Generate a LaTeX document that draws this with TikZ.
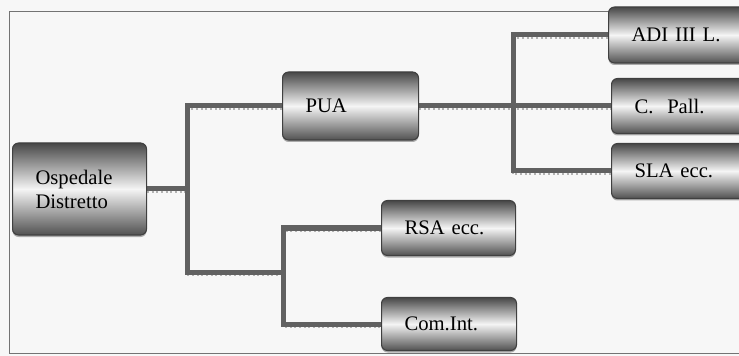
\documentclass[tikz,border=0pt]{standalone}
\usepackage{fontspec}
\setmainfont{Liberation Serif}
\usetikzlibrary{shadows,backgrounds}
\newlength\px
\setlength\px{0.75pt}
\tikzset{
  box/.style={draw=black!75, line width=0.8pt, rounded corners=6\px,
    top color=black!72, bottom color=black!68, middle color=black!4,
    drop shadow={shadow xshift=0pt, shadow yshift=-2\px, fill=black!40, opacity=0.8},
    align=left, inner xsep=23\px, inner ysep=0pt, anchor=west,
    font=\fontsize{15.5}{18}\selectfont},
  link/.style={draw=black!62, line width=5\px, line cap=rect,
    preaction={draw=black!30, dotted, line width=2\px,
      transform canvas={yshift=-3\px}}},
  frame/.style={draw=black!55, line width=0.8\px}
}
\begin{document}
\begin{tikzpicture}[x=\px, y=-\px]
  \useasboundingbox (0,0) rectangle (739,356);
  \clip (0,0) rectangle (739,356);
  % frame
  \draw[frame] (745,11) -- (9,11) -- (9,353) -- (745,353);

  % boxes
  \node[box, text width=88\px, minimum height=92\px] (osp) at (12,189) {Ospedale\\Distretto};
  \node[box, text width=90\px, minimum height=68\px] (pua) at (282,106) {PUA};
  \node[box, text width=100\px, minimum height=56\px] (adi) at (608,35) {ADI III L.};
  \node[box, text width=100\px, minimum height=55\px] (pall) at (611,106) {C.\ \ Pall.};
  \node[box, text width=100\px, minimum height=55\px] (sla) at (611,171) {SLA ecc.};
  \node[box, text width=88\px, minimum height=55\px] (rsa) at (381,228) {RSA ecc.};
  \node[box, text width=89\px, minimum height=53\px] (com) at (381,324) {Com.Int.};

  % connectors
  \coordinate (t1) at (187,189);
  \coordinate (t2) at (283,272);
  \coordinate (t3) at (513,106);
  \begin{scope}[on background layer]
  \fill[black!3] (0,0) rectangle (739,356);
  \draw[link] (osp.east) -- (t1);
  \draw[link] (pua.west) -| (t1) |- (t2);
  \draw[link] (rsa.west) -| (t2) |- (com.west);
  \draw[link] (pua.east) -- (pall.west);
  \draw[link] (adi.west) -| (t3) |- (sla.west);
  \end{scope}
\end{tikzpicture}
\end{document}
